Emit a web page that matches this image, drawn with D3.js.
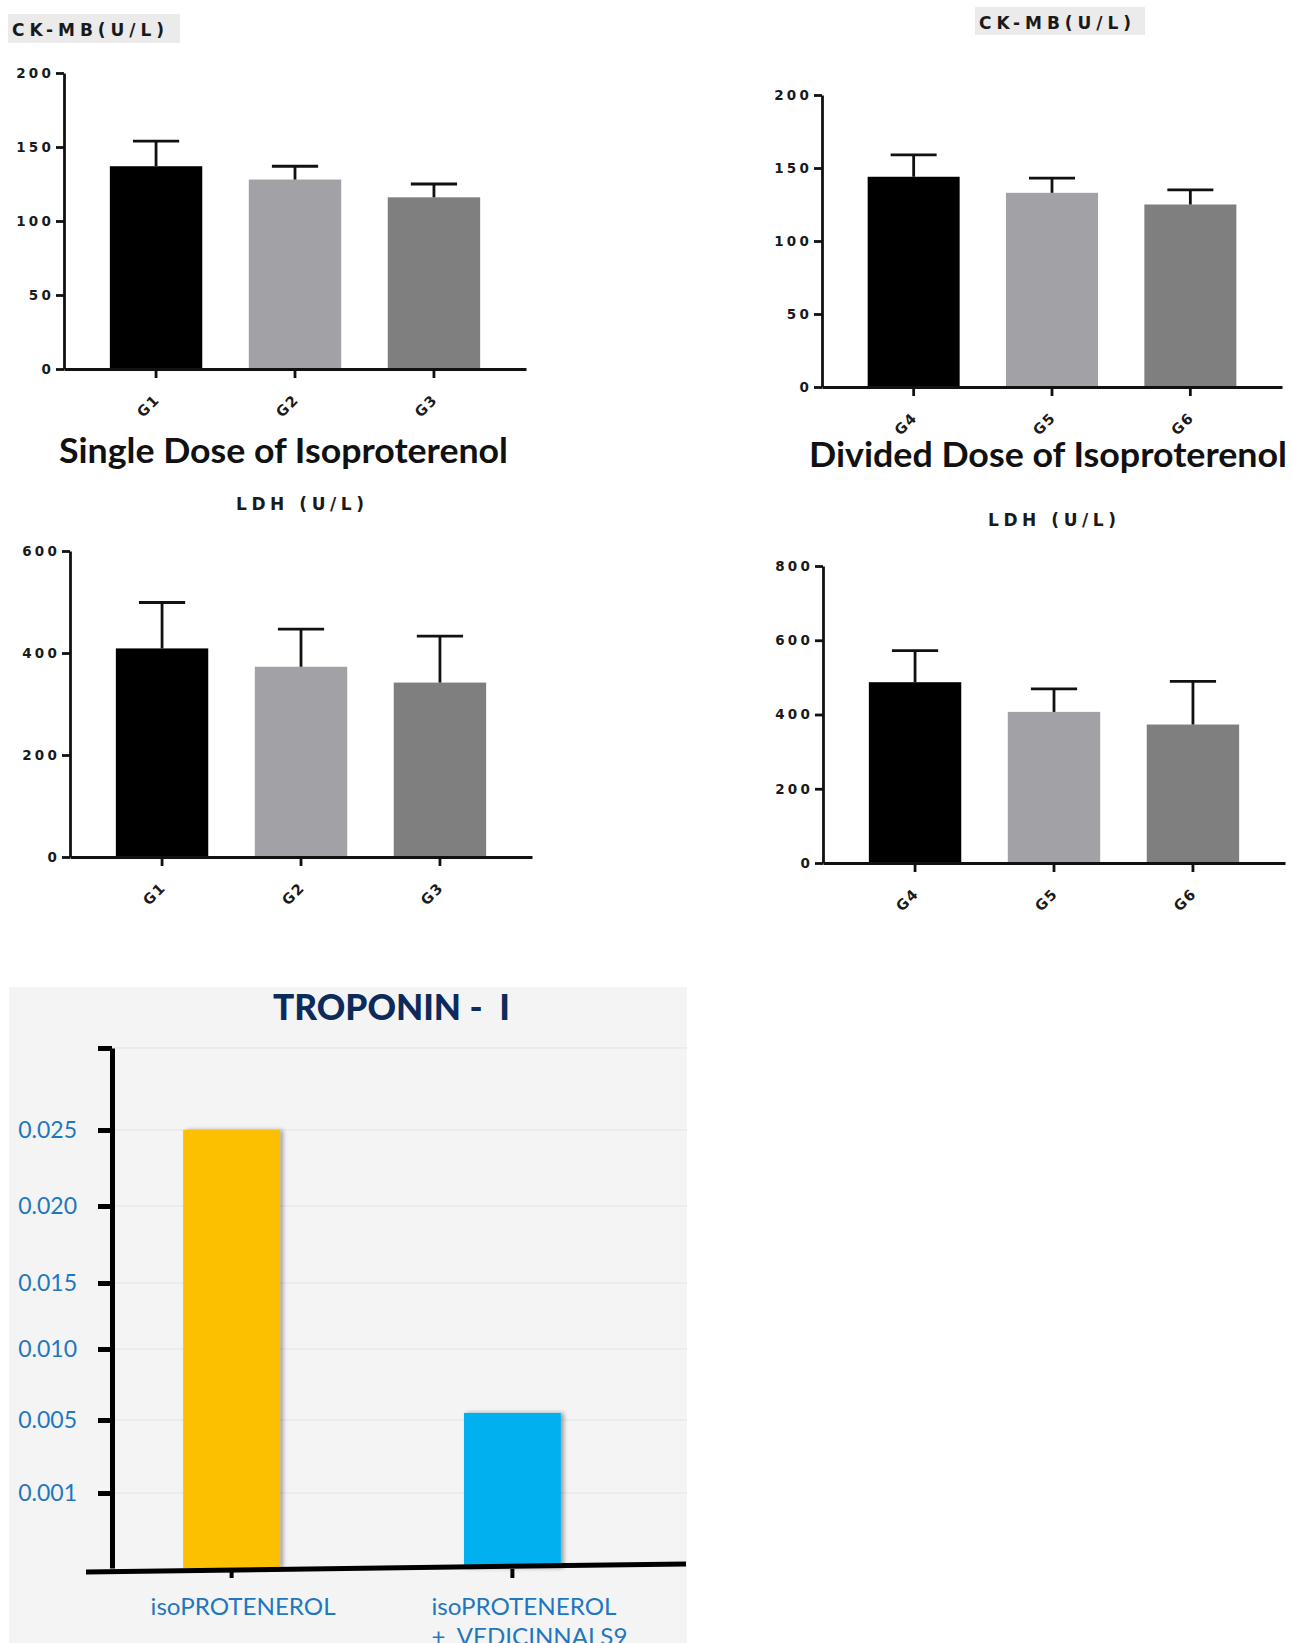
<!DOCTYPE html>
<html><head><meta charset="utf-8">
<script src="https://cdn.jsdelivr.net/npm/d3@7"></script>
<style>
html,body{margin:0;padding:0;background:#fff;}
svg{display:block;}
</style></head><body>
<svg id="chart" width="1292" height="1643"></svg>
<script>
// ---------------- DATA ----------------
const singleGroups = ["G1", "G2", "G3"];
const dividedGroups = ["G4", "G5", "G6"];

const ckmbSingleMeans = [137, 128, 116];
const ckmbSingleErrs  = [17, 9, 9];
const ckmbDividedMeans = [144, 133, 125];
const ckmbDividedErrs  = [15, 10, 10];
const ckmbTicks = [0, 50, 100, 150, 200];

const ldhSingleMeans = [409, 373, 342];
const ldhSingleErrs  = [90, 74, 91];
const ldhSingleTicks = [0, 200, 400, 600];
const ldhDividedMeans = [487, 407, 373];
const ldhDividedErrs  = [85, 62, 116];
const ldhDividedTicks = [0, 200, 400, 600, 800];

const tropCategories = ["isoPROTENEROL", "isoPROTENEROL + VEDICINNALS9"];
const tropValues = [0.025, 0.0055];
const tropTickValues = [0.001, 0.005, 0.010, 0.015, 0.020, 0.025];
const tropTickLabels = ["0.001", "0.005", "0.010", "0.015", "0.020", "0.025"];

const barColors = ["#000000", "#a2a2a6", "#7f7f7f"];
const tropColors = ["#fdc000", "#00b0ef"];

// ---------------- DRAW ----------------
const svg = d3.select("#chart");
const defs = svg.append("defs");
const f = defs.append("filter").attr("id", "shadow").attr("x", "-10%").attr("y", "-10%").attr("width", "130%").attr("height", "120%");
f.append("feDropShadow").attr("dx", 3).attr("dy", 0).attr("stdDeviation", 2).attr("flood-color", "#000").attr("flood-opacity", 0.35);

const gpFont = "'DejaVu Sans', 'Liberation Sans', Arial, sans-serif";

function panel(o) {
  const g = svg.append("g");
  if (o.box) {
    g.append("rect").attr("x", o.box[0]).attr("y", o.box[1]).attr("width", o.box[2]).attr("height", o.box[3]).attr("fill", "#ebebeb");
  }
  g.append("text").text(o.title)
    .attr("x", o.titleX).attr("y", o.titleY)
    .attr("text-anchor", o.titleAnchor)
    .attr("textLength", o.titleLen).attr("lengthAdjust", "spacing")
    .style("font-family", gpFont).style("font-weight", "bold")
    .style("font-size", "17px").attr("fill", "#1a1a1a");

  const x = d3.scaleBand().domain(o.groups).range([o.axisX, o.axisEnd]).paddingInner(0.335).paddingOuter(0.33);
  const y = d3.scaleLinear().domain([0, o.max]).range([o.y0, o.yTop]);
  const bw = x.bandwidth();

  g.selectAll("rect.bar").data(o.groups).join("rect").attr("class", "bar")
    .attr("x", d => x(d)).attr("width", bw)
    .attr("y", (d, i) => y(o.means[i])).attr("height", (d, i) => y(0) - y(o.means[i]))
    .attr("fill", (d, i) => barColors[i]);

  const eb = g.selectAll("g.err").data(o.groups).join("g").attr("class", "err")
    .attr("stroke", "#111").attr("stroke-width", 2.8);
  eb.append("line")
    .attr("x1", d => x(d) + bw / 2).attr("x2", d => x(d) + bw / 2)
    .attr("y1", (d, i) => y(o.means[i])).attr("y2", (d, i) => y(o.means[i] + o.errs[i]));
  eb.append("line")
    .attr("x1", d => x(d) + bw / 2 - bw * 0.25).attr("x2", d => x(d) + bw / 2 + bw * 0.25)
    .attr("y1", (d, i) => y(o.means[i] + o.errs[i])).attr("y2", (d, i) => y(o.means[i] + o.errs[i]));

  const ya = g.append("g").attr("transform", `translate(${o.axisX},0)`)
    .call(d3.axisLeft(y).tickValues(o.ticks).tickSize(8).tickSizeOuter(0).tickPadding(2).tickFormat(d3.format("d")));
  const xa = g.append("g").attr("transform", `translate(0,${o.y0})`)
    .call(d3.axisBottom(x).tickSize(9).tickSizeOuter(0));
  [ya, xa].forEach(a => {
    a.select(".domain").attr("stroke", "#111").attr("stroke-width", 2.8);
    a.selectAll(".tick line").attr("stroke", "#111").attr("stroke-width", 2.8);
    a.selectAll("text").attr("fill", "#1a1a1a")
      .style("font-family", gpFont).style("font-weight", "bold")
      .style("font-size", "13.5px").style("letter-spacing", "3.2px");
  });
  xa.selectAll(".tick text")
    .attr("y", 0).attr("dy", "0.35em")
    .attr("transform", "translate(1,28) rotate(-45)")
    .attr("text-anchor", "end")
    .style("font-size", "14.5px")
    .style("letter-spacing", "1.5px");

  if (o.sub) {
    g.append("text").text(o.sub)
      .attr("x", o.subX).attr("y", o.subY)
      .attr("textLength", o.subLen).attr("lengthAdjust", "spacingAndGlyphs")
      .style("font-family", "Lato, 'Open Sans', sans-serif").style("font-weight", "bold")
      .style("font-size", "35px").attr("fill", "#111");
  }
}

panel({ title: "CK-MB(U/L)", box: [8, 14, 172, 29], titleX: 12, titleY: 36, titleAnchor: "start", titleLen: 152,
  groups: singleGroups, means: ckmbSingleMeans, errs: ckmbSingleErrs, ticks: ckmbTicks, max: 200,
  axisX: 64, axisEnd: 526, y0: 369, yTop: 73,
  sub: "Single Dose of Isoproterenol", subX: 59, subY: 463, subLen: 449 });

panel({ title: "CK-MB(U/L)", box: [975, 7, 170, 28], titleX: 979, titleY: 29, titleAnchor: "start", titleLen: 152,
  groups: dividedGroups, means: ckmbDividedMeans, errs: ckmbDividedErrs, ticks: ckmbTicks, max: 200,
  axisX: 822, axisEnd: 1282, y0: 387, yTop: 95,
  sub: "Divided Dose of Isoproterenol", subX: 809, subY: 467, subLen: 478 });

panel({ title: "LDH (U/L)", titleX: 300, titleY: 510, titleAnchor: "middle", titleLen: 128,
  groups: singleGroups, means: ldhSingleMeans, errs: ldhSingleErrs, ticks: ldhSingleTicks, max: 600,
  axisX: 70, axisEnd: 532, y0: 857, yTop: 551 });

panel({ title: "LDH (U/L)", titleX: 1052, titleY: 526, titleAnchor: "middle", titleLen: 128,
  groups: dividedGroups, means: ldhDividedMeans, errs: ldhDividedErrs, ticks: ldhDividedTicks, max: 800,
  axisX: 823, axisEnd: 1285, y0: 863, yTop: 566 });

// ---------------- TROPONIN ----------------
const tg = svg.append("g");
tg.append("rect").attr("x", 9).attr("y", 987).attr("width", 678).attr("height", 656).attr("fill", "#f4f4f4");
tg.append("text").text("TROPONIN -  I")
  .attr("x", 273).attr("y", 1020).attr("textLength", 237).attr("lengthAdjust", "spacingAndGlyphs")
  .style("font-family", "Lato, sans-serif").style("font-weight", "900").style("font-size", "36px")
  .style("white-space", "pre").attr("fill", "#0d2a5c");

const tropX = d3.scaleBand().domain(tropCategories).range([127, 617]).paddingInner(0.655).paddingOuter(0.2);
const tropTop = 0.030;
const tropY = d3.scaleLinear()
  .domain([0, ...tropTickValues, tropTop])
  .range([1568, 1493, 1420, 1349, 1283, 1206, 1130, 1048]);

// grid
tg.selectAll("line.grid").data([...tropTickValues, tropTop]).join("line").attr("class", "grid")
  .attr("x1", 112).attr("x2", 687).attr("y1", d => tropY(d)).attr("y2", d => tropY(d))
  .attr("stroke", "#e3e3e3").attr("stroke-width", 1);

// bars
tg.selectAll("rect.tbar").data(tropCategories).join("rect").attr("class", "tbar")
  .attr("x", d => tropX(d)).attr("width", tropX.bandwidth())
  .attr("y", (d, i) => tropY(tropValues[i])).attr("height", (d, i) => tropY(0) - tropY(tropValues[i]))
  .attr("fill", (d, i) => tropColors[i]).attr("filter", "url(#shadow)");

// y axis
const tya = tg.append("g").attr("transform", "translate(112,0)")
  .call(d3.axisLeft(tropY).tickValues([...tropTickValues, tropTop]).tickSize(14).tickSizeOuter(0).tickPadding(21)
    .tickFormat((d, i) => i < tropTickLabels.length ? tropTickLabels[i] : ""));
tya.select(".domain").attr("stroke", "#000").attr("stroke-width", 5);
tya.selectAll(".tick line").attr("stroke", "#000").attr("stroke-width", 5);
tya.selectAll(".tick text").attr("fill", "#1f77c0")
  .style("font-family", "Lato, sans-serif").style("font-size", "23px");

// x axis (slightly slanted base line in the original)
const txa = tg.append("g").attr("transform", "translate(0,1569)")
  .call(d3.axisBottom(tropX).tickSize(9).tickSizeOuter(0).tickFormat(""));
txa.select(".domain").remove();
txa.selectAll(".tick line").attr("stroke", "#000").attr("stroke-width", 4);
tg.append("line").attr("x1", 86).attr("y1", 1572).attr("x2", 686).attr("y2", 1564)
  .attr("stroke", "#000").attr("stroke-width", 5);

// x labels
const lineLens = [185, 196];
tropCategories.forEach((c, i) => {
  const lines = c.split(" + ").map((s, k) => k ? "+  " + s : s);
  const x0 = tropX(c) + tropX.bandwidth() / 2 - 81;
  const t = tg.append("text")
    .attr("x", x0).attr("y", 1615)
    .style("font-family", "Lato, sans-serif").style("font-size", "23.5px")
    .style("white-space", "pre").attr("fill", "#1f77c0");
  lines.forEach((l, k) => {
    t.append("tspan").attr("x", x0).attr("dy", k ? 30 : 0)
      .attr("textLength", lineLens[k]).attr("lengthAdjust", "spacingAndGlyphs").text(l);
  });
});
</script></body></html>
